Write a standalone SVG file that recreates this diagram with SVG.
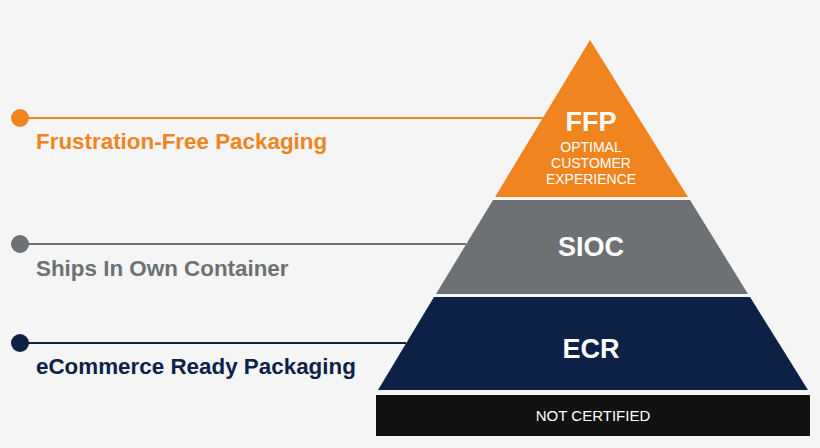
<svg xmlns="http://www.w3.org/2000/svg" width="820" height="448" viewBox="0 0 820 448">
<style>
.lbl{font-family:"Liberation Sans",Arial,sans-serif;font-weight:bold;font-size:22.4px}
.big{font-family:"Liberation Sans",Arial,sans-serif;font-weight:bold;font-size:27px;fill:#fff;text-anchor:middle}
.sm{font-family:"Liberation Sans",Arial,sans-serif;font-size:14px;fill:#fff;text-anchor:middle}
</style>
<rect width="820" height="448" fill="#f5f5f5"/>
<g id="connectors" stroke-width="2">
<line x1="20" y1="118" x2="544" y2="118" stroke="#f0841f"/>
<line x1="20" y1="244" x2="466" y2="244" stroke="#6d7174"/>
<line x1="20" y1="343" x2="406" y2="343" stroke="#0d2147"/>
<circle cx="20" cy="118" r="9" fill="#f0841f" stroke="none"/>
<circle cx="20" cy="244" r="9" fill="#6d7174" stroke="none"/>
<circle cx="20" cy="343" r="9" fill="#0d2147" stroke="none"/>
</g>
<g id="ffp">
<polygon points="590,40 688,197 495,197" fill="#f0841f"/>
<text class="big" x="591" y="131">FFP</text>
<text class="sm" x="591" y="152">OPTIMAL</text>
<text class="sm" x="591" y="168">CUSTOMER</text>
<text class="sm" x="591" y="184">EXPERIENCE</text>
<text class="lbl" x="36" y="149" fill="#f0841f">Frustration-Free Packaging</text>
</g>
<g id="sioc">
<polygon points="493,200 690,200 748,294 436,294" fill="#6d7174"/>
<text class="big" x="591" y="256">SIOC</text>
<text class="lbl" x="36" y="276" fill="#6d7174">Ships In Own Container</text>
</g>
<g id="ecr">
<polygon points="434,297 750,297 808,390 378,390" fill="#0d2147"/>
<text class="big" x="591" y="358">ECR</text>
<text class="lbl" x="36" y="374" fill="#0d2147">eCommerce Ready Packaging</text>
</g>
<g id="nc">
<rect x="376" y="395" width="434" height="41" fill="#111"/>
<text class="sm" x="593" y="421" style="font-size:15px">NOT CERTIFIED</text>
</g>
</svg>
